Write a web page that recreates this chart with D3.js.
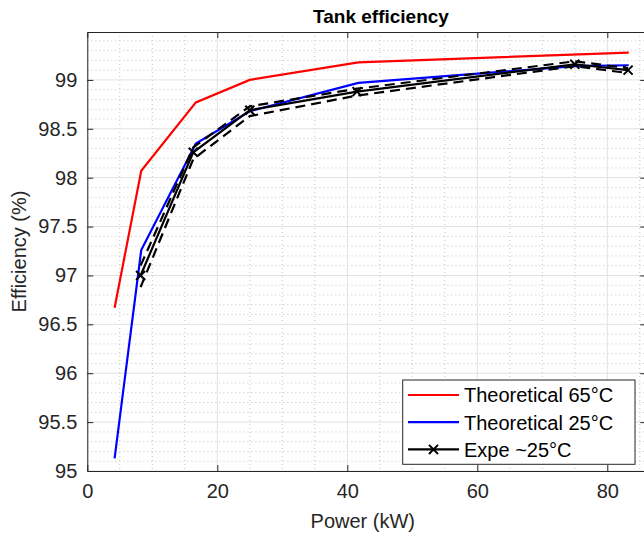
<!DOCTYPE html>
<html>
<head>
<meta charset="utf-8">
<script src="https://cdn.jsdelivr.net/npm/d3@7"></script>
<style>
  body { margin: 0; background: #fff; }
  svg { display: block; font-family: "Liberation Sans", Arial, sans-serif; }
</style>
</head>
<body>
<svg id="chart" width="644" height="535"></svg>
<script>
// Data
var theoX = [4.2, 8.3, 16.7, 25, 41.7, 83.3];
var theo65 = [96.67, 98.07, 98.77, 99.0, 99.18, 99.28];

var theo25X = [4.2, 8.3, 16.7, 25, 41.7, 75, 83.3];
var theo25 = [95.13, 97.26, 98.35, 98.68, 98.97, 99.14, 99.15];

var expeX = [8.2, 16.3, 25, 41.5, 75, 83.2];
var expe = [97.0, 98.26, 98.69, 98.88, 99.16, 99.10];
var expeHigh = [97.1, 98.31, 98.73, 98.91, 99.19, 99.12];
var expeLow = [96.88, 98.19, 98.63, 98.84, 99.14, 99.07];

var xTicks = [0, 20, 40, 60, 80];
var yTicks = [95, 95.5, 96, 96.5, 97, 97.5, 98, 98.5, 99];

var legendLabels = ["Theoretical 65°C", "Theoretical 25°C", "Expe ~25°C"];

var svg = d3.select("#chart");
var margin = {top: 32, left: 87.3};
var width = 559, height = 439;
var axisColor = "#262626";

var g = svg.append("g").attr("transform", "translate(" + margin.left + "," + margin.top + ")");

var x = d3.scaleLinear().domain([0, 86]).range([0, width]);
var y = d3.scaleLinear().domain([95, 99.49]).range([height, 0]);

// minor grid
var xMinor = d3.range(0, 86, 5).filter(function(d) { return d % 20 !== 0; });
var yMinor = d3.range(950, 995, 1).map(function(d) { return d / 10; })
  .filter(function(d) { return Math.abs(d * 2 - Math.round(d * 2)) > 1e-6; });

g.selectAll(".minor-x").data(xMinor).enter().append("line")
    .attr("x1", function(d) { return x(d); })
    .attr("x2", function(d) { return x(d); })
    .attr("y1", 0).attr("y2", height)
    .attr("stroke", "#c4c4c4").attr("stroke-width", 1)
    .attr("stroke-dasharray", "1,3");

g.selectAll(".minor-y").data(yMinor).enter().append("line")
    .attr("x1", 0).attr("x2", width)
    .attr("y1", function(d) { return y(d); })
    .attr("y2", function(d) { return y(d); })
    .attr("stroke", "#c4c4c4").attr("stroke-width", 1)
    .attr("stroke-dasharray", "1,3");

// major grid
g.selectAll(".major-x").data(xTicks).enter().append("line")
    .attr("x1", function(d) { return x(d); })
    .attr("x2", function(d) { return x(d); })
    .attr("y1", 0).attr("y2", height)
    .attr("stroke", "#e1e1e1").attr("stroke-width", 1);

g.selectAll(".major-y").data(yTicks).enter().append("line")
    .attr("x1", 0).attr("x2", width)
    .attr("y1", function(d) { return y(d); })
    .attr("y2", function(d) { return y(d); })
    .attr("stroke", "#e1e1e1").attr("stroke-width", 1);

// data lines
function pts(xs, ys) { return xs.map(function(v, i) { return [v, ys[i]]; }); }
var line = d3.line().x(function(d) { return x(d[0]); }).y(function(d) { return y(d[1]); });

var plot = g.append("g");

plot.append("path").datum(pts(theoX, theo65)).attr("d", line)
    .attr("fill", "none").attr("stroke", "#ff0000").attr("stroke-width", 2.2);

plot.append("path").datum(pts(theo25X, theo25)).attr("d", line)
    .attr("fill", "none").attr("stroke", "#0000ff").attr("stroke-width", 2.2);

[expeHigh, expeLow].forEach(function(s) {
  plot.append("path").datum(pts(expeX, s)).attr("d", line)
      .attr("fill", "none").attr("stroke", "#000").attr("stroke-width", 2.2)
      .attr("stroke-dasharray", "10,6");
});

plot.append("path").datum(pts(expeX, expe)).attr("d", line)
    .attr("fill", "none").attr("stroke", "#000").attr("stroke-width", 2.2);

var cross = d3.symbol().type(d3.symbolX).size(55);
plot.selectAll(".mark").data(pts(expeX, expe)).enter().append("path")
    .attr("d", cross)
    .attr("transform", function(d) { return "translate(" + x(d[0]) + "," + y(d[1]) + ")"; })
    .attr("fill", "none").attr("stroke", "#000").attr("stroke-width", 2);

// axes (MATLAB style: inward ticks, box on)
var tickLen = 6;
g.append("g")
    .attr("transform", "translate(0," + height + ")")
    .call(d3.axisBottom(x).tickValues(xTicks).tickSize(-tickLen).tickPadding(15).tickSizeOuter(0))
    .call(function(a) {
      a.select(".domain").attr("stroke", axisColor);
      a.selectAll("line").attr("stroke", axisColor);
      a.selectAll("text").attr("fill", axisColor).style("font-size", "20px")
          .attr("dy", "0.71em").attr("y", 13);
    });

g.append("g")
    .call(d3.axisLeft(y).tickValues(yTicks).tickFormat(d3.format("")).tickSize(-tickLen).tickPadding(10).tickSizeOuter(0))
    .call(function(a) {
      a.select(".domain").attr("stroke", axisColor);
      a.selectAll("line").attr("stroke", axisColor);
      a.selectAll("text").attr("fill", axisColor).style("font-size", "20px");
    });

g.append("g")
    .call(d3.axisTop(x).tickValues(xTicks).tickSize(-tickLen).tickFormat("").tickSizeOuter(0))
    .call(function(a) {
      a.select(".domain").attr("stroke", axisColor);
      a.selectAll("line").attr("stroke", axisColor);
    });

g.append("g")
    .attr("transform", "translate(" + width + ",0)")
    .call(d3.axisRight(y).tickValues(yTicks).tickSize(-tickLen).tickFormat("").tickSizeOuter(0))
    .call(function(a) {
      a.select(".domain").attr("stroke", axisColor);
      a.selectAll("line").attr("stroke", axisColor);
    });

// labels
svg.append("text")
    .attr("x", 381).attr("y", 23)
    .attr("text-anchor", "middle")
    .style("font-size", "19px").style("font-weight", "bold")
    .attr("fill", "#000")
    .text("Tank efficiency");

svg.append("text")
    .attr("x", margin.left + width / 2 - 4).attr("y", 528)
    .attr("text-anchor", "middle")
    .style("font-size", "20px")
    .attr("fill", axisColor)
    .text("Power (kW)");

svg.append("text")
    .attr("transform", "translate(26," + (margin.top + height / 2) + ") rotate(-90)")
    .attr("text-anchor", "middle")
    .style("font-size", "20px")
    .attr("fill", axisColor)
    .text("Efficiency (%)");

// legend
var legend = svg.append("g").attr("transform", "translate(402.7,380)");
legend.append("rect")
    .attr("width", 232.3).attr("height", 84.3)
    .attr("fill", "#fff").attr("stroke", axisColor).attr("stroke-width", 1);

var legendColors = ["#ff0000", "#0000ff", "#000"];
var rows = legend.selectAll(".row").data(legendLabels).enter().append("g")
    .attr("transform", function(d, i) { return "translate(0," + (15 + i * 27.2) + ")"; });

rows.append("line")
    .attr("x1", 5.3).attr("x2", 56.3)
    .attr("stroke", function(d, i) { return legendColors[i]; })
    .attr("stroke-width", 2.2);

rows.filter(function(d, i) { return i === 2; }).append("path")
    .attr("d", cross)
    .attr("transform", "translate(30.8,0)")
    .attr("fill", "none").attr("stroke", "#000").attr("stroke-width", 2);

rows.append("text")
    .attr("x", 61.3).attr("y", 7.3)
    .style("font-size", "20px")
    .attr("fill", "#000")
    .text(function(d) { return d; });
</script>
</body>
</html>
